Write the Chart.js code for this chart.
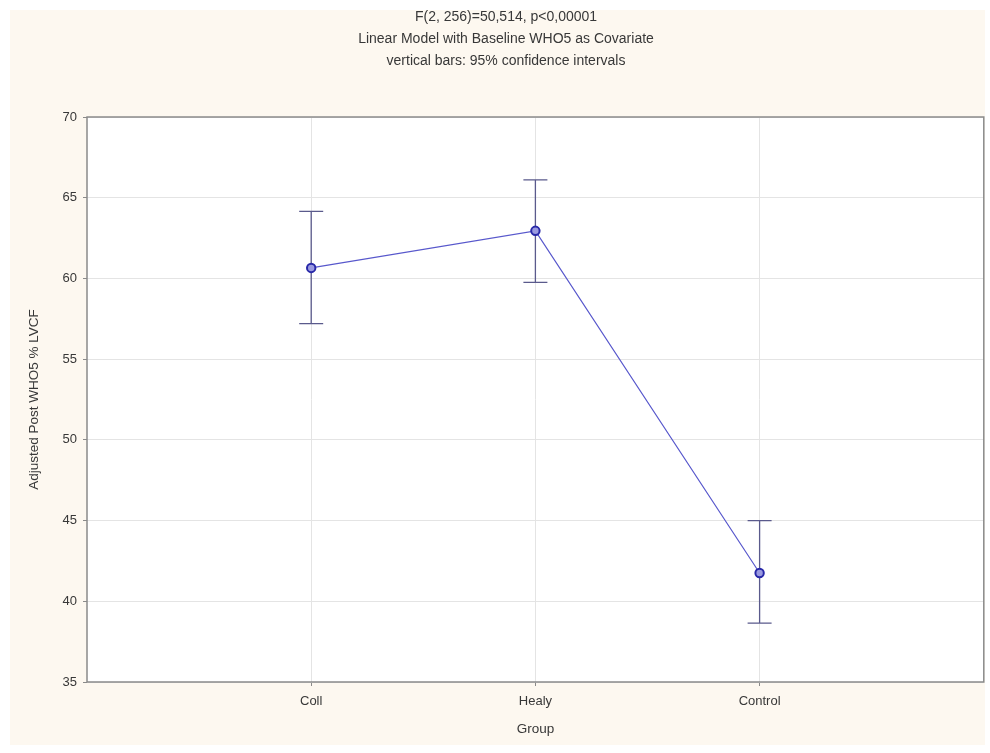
<!DOCTYPE html>
<html>
<head>
<meta charset="utf-8">
<title>Adjusted Post WHO5 by Group</title>
<script src="https://cdn.jsdelivr.net/npm/chart.js@4.4.1/dist/chart.umd.min.js"></script>
<style>
  html, body { margin: 0; padding: 0; background: #ffffff; }
  #wrap { width: 990px; height: 753px; position: relative; }
</style>
</head>
<body>
<div id="wrap"><canvas id="chart" width="990" height="753"></canvas></div>
<script>
// Data
const groups = ['Coll', 'Healy', 'Control'];
const groupPos = [1, 2, 3];
const means = [60.65, 62.95, 41.75];
const ciLower = [57.2, 59.75, 38.65];
const ciUpper = [64.15, 66.1, 45.0];
const yTicks = [35, 40, 45, 50, 55, 60, 65, 70];
const titleLines = [
  'F(2, 256)=50,514, p<0,00001',
  'Linear Model with Baseline WHO5 as Covariate',
  'vertical bars: 95% confidence intervals'
];

const textColor = '#383838';
const fontFamily = '"Liberation Sans", Arial, sans-serif';

// Cream page panel + white plot area + frame
const backgroundPlugin = {
  id: 'panelBackground',
  beforeDraw(chart) {
    const ctx = chart.ctx;
    const area = chart.chartArea;
    ctx.save();
    ctx.fillStyle = '#fdf8f0';
    ctx.fillRect(10, 10, 975, 735);
    ctx.fillStyle = '#ffffff';
    ctx.fillRect(area.left, area.top, area.right - area.left, area.bottom - area.top);
    ctx.restore();
  },
  afterDraw(chart) {
    const ctx = chart.ctx;
    const area = chart.chartArea;
    ctx.save();
    ctx.strokeStyle = '#8a8a8a';
    ctx.lineWidth = 1.5;
    ctx.strokeRect(area.left, area.top, area.right - area.left, area.bottom - area.top);
    ctx.restore();
  }
};

// Vertical confidence-interval bars with caps
const errorBarPlugin = {
  id: 'errorBars',
  beforeDatasetsDraw(chart) {
    const ctx = chart.ctx;
    const xScale = chart.scales.x;
    const yScale = chart.scales.y;
    ctx.save();
    ctx.strokeStyle = '#5a5a8c';
    ctx.lineWidth = 1.3;
    groupPos.forEach((g, i) => {
      const x = xScale.getPixelForValue(g);
      const yLo = yScale.getPixelForValue(ciLower[i]);
      const yHi = yScale.getPixelForValue(ciUpper[i]);
      ctx.beginPath();
      ctx.moveTo(x, yLo);
      ctx.lineTo(x, yHi);
      ctx.moveTo(x - 12, yLo);
      ctx.lineTo(x + 12, yLo);
      ctx.moveTo(x - 12, yHi);
      ctx.lineTo(x + 12, yHi);
      ctx.stroke();
    });
    ctx.restore();
  }
};

const ctx = document.getElementById('chart').getContext('2d');
new Chart(ctx, {
  type: 'scatter',
  data: {
    datasets: [{
      label: 'Adjusted Post WHO5',
      data: groupPos.map((g, i) => ({ x: g, y: means[i] })),
      showLine: true,
      borderColor: '#5858cc',
      borderWidth: 1.2,
      pointStyle: 'circle',
      pointRadius: 4.2,
      pointBorderWidth: 2,
      pointBorderColor: '#2828a8',
      pointBackgroundColor: '#9a9ae0',
      tension: 0
    }]
  },
  options: {
    responsive: false,
    animation: false,
    layout: { padding: { left: 26, right: 4, top: 0, bottom: 0 } },
    plugins: {
      legend: { display: false },
      tooltip: { enabled: false },
      title: {
        display: true,
        text: titleLines,
        color: textColor,
        font: { family: fontFamily, size: 14, weight: 'normal', lineHeight: 22 / 14 },
        padding: { top: 6, bottom: 45 }
      }
    },
    scales: {
      x: {
        type: 'linear',
        min: 0,
        max: 4,
        afterBuildTicks(scale) {
          scale.ticks = groupPos.map(v => ({ value: v }));
        },
        afterFit(scale) {
          scale.height = 71;
          scale.paddingLeft = 0;
          scale.paddingRight = 0;
        },
        ticks: {
          color: textColor,
          font: { family: fontFamily, size: 13 },
          padding: 8,
          maxRotation: 0,
          callback: (v) => groups[groupPos.indexOf(v)] || ''
        },
        grid: { color: '#e4e4e4', tickColor: '#8a8a8a', tickLength: 4 },
        border: { display: false },
        title: {
          display: true,
          text: 'Group',
          color: textColor,
          font: { family: fontFamily, size: 13.5 },
          padding: { top: 0, bottom: 16 }
        }
      },
      y: {
        min: 35,
        max: 70,
        afterBuildTicks(scale) {
          scale.ticks = yTicks.map(v => ({ value: v }));
        },
        afterFit(scale) { scale.width = 61; },
        ticks: {
          color: textColor,
          font: { family: fontFamily, size: 13 },
          padding: 6
        },
        grid: { color: '#e4e4e4', tickColor: '#8a8a8a', tickLength: 4 },
        border: { display: false },
        title: {
          display: true,
          text: 'Adjusted Post WHO5 % LVCF',
          color: textColor,
          font: { family: fontFamily, size: 13.5 },
          padding: { top: 0, bottom: 0 }
        }
      }
    }
  },
  plugins: [backgroundPlugin, errorBarPlugin]
});
</script>
</body>
</html>
